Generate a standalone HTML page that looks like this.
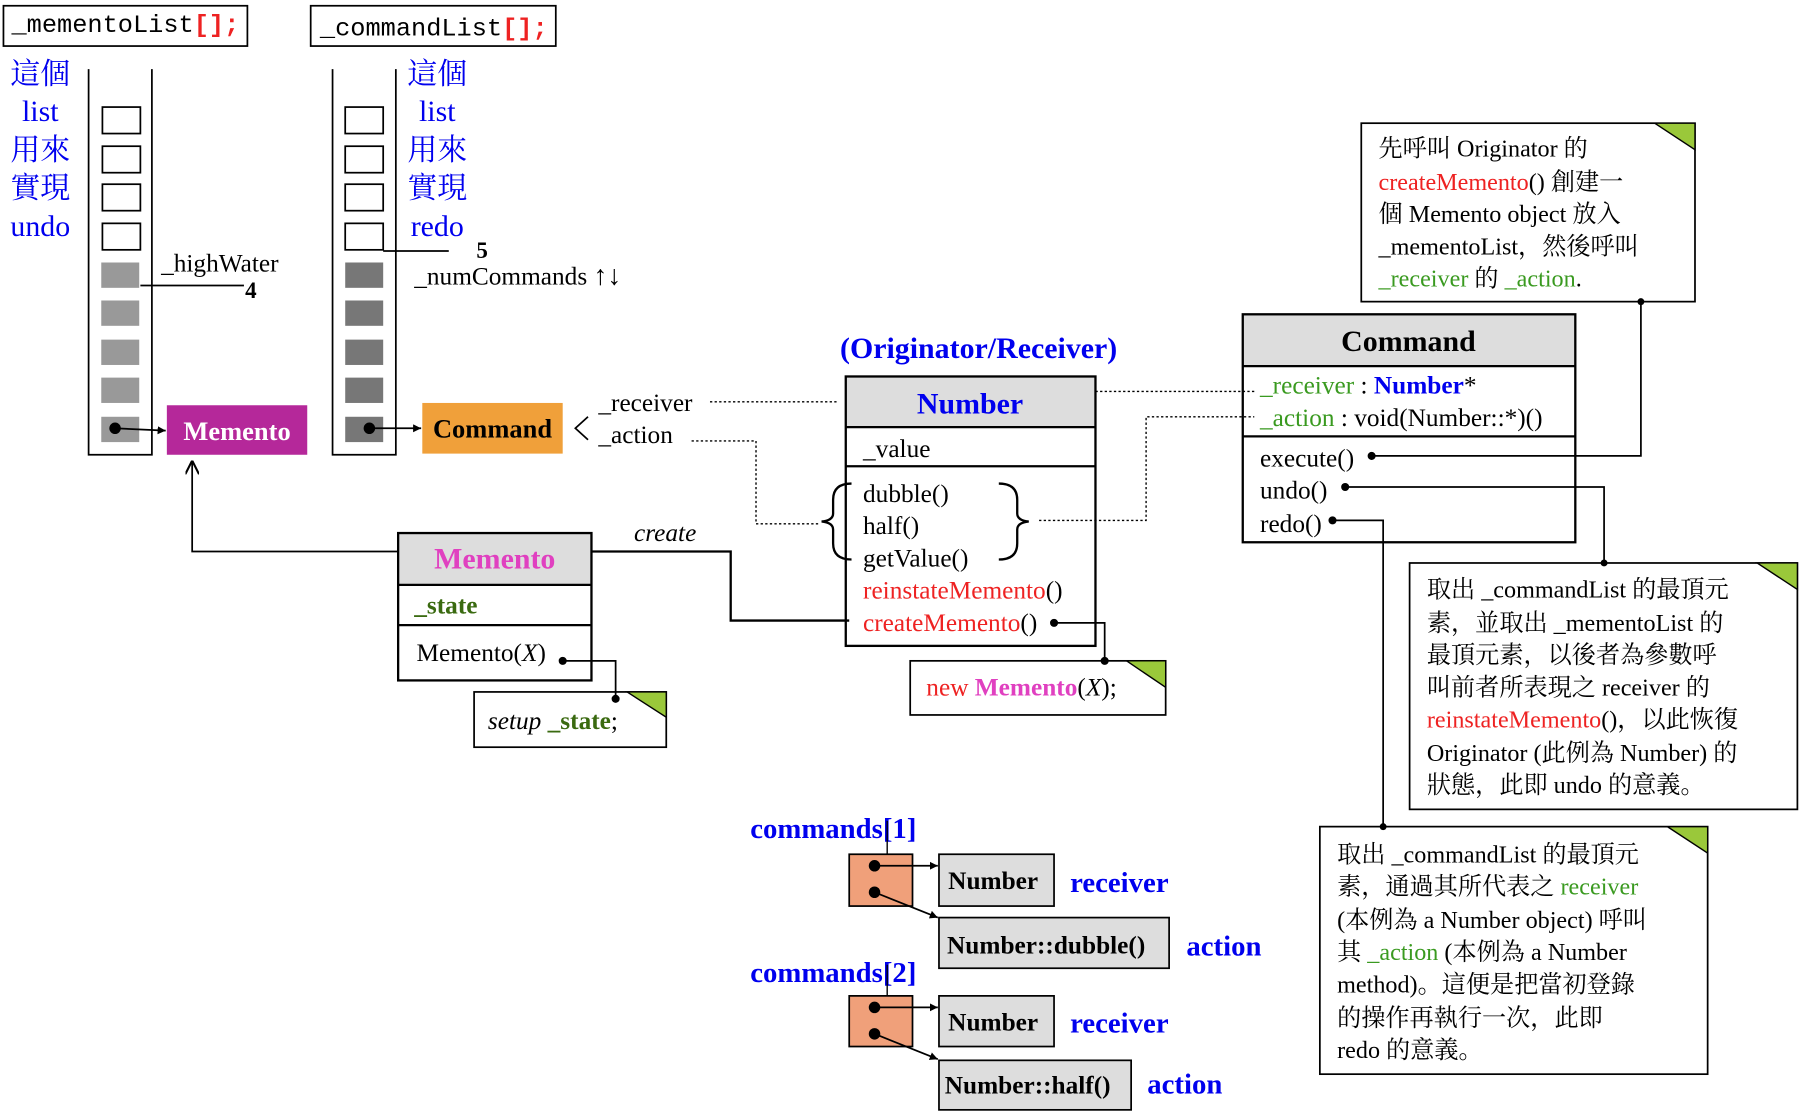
<!DOCTYPE html>
<html><head><meta charset="utf-8"><style>
html,body{margin:0;padding:0;background:#fff;}
svg{display:block;}
text{font-family:"Liberation Serif","Noto Serif CJK SC",serif;}
.m{font-family:"Liberation Mono",monospace;}
.b{font-weight:bold;}
.bl{fill:#0000ee;}
.g{fill:#3a9a20;}
.r{fill:#ee2222;}
</style></head><body>
<svg width="1802" height="1111" viewBox="0 0 1566 965" preserveAspectRatio="none" xmlns="http://www.w3.org/2000/svg">
<defs>
<marker id="ar" viewBox="0 0 10 10" refX="10" refY="5" markerWidth="7" markerHeight="7" orient="auto" markerUnits="userSpaceOnUse"><path d="M0,0L10,5L0,10z" fill="#000"/></marker>
<marker id="oa" viewBox="0 0 10 10" refX="10" refY="5" markerWidth="12" markerHeight="12" orient="auto" markerUnits="userSpaceOnUse"><path d="M0,0L10,5L0,10" fill="none" stroke="#000" stroke-width="1.5"/></marker>
</defs>
<g fill="none" stroke="#000" stroke-width="1.5">
<rect x="3" y="5" width="212" height="35"/>
<rect x="270" y="5" width="213" height="35"/>
</g>
<text x="10" y="28" font-size="22" class="m">_mementoList<tspan class="r b">[];</tspan></text>
<text x="278" y="31" font-size="22" class="m">_commandList<tspan class="r b">[];</tspan></text>
<g class="bl" font-size="26" text-anchor="middle">
<text x="35" y="73">這個</text><text x="35" y="105">list</text><text x="35" y="139">用來</text><text x="35" y="172">實現</text><text x="35" y="205">undo</text>
<text x="380" y="73">這個</text><text x="380" y="105">list</text><text x="380" y="139">用來</text><text x="380" y="172">實現</text><text x="380" y="205">redo</text>
</g>
<g fill="none" stroke="#000" stroke-width="1.5">
<path d="M77,60V395H132V60"/>
<path d="M289,60V395H344V60"/>
<rect x="89" y="93" width="33" height="23"/><rect x="89" y="127" width="33" height="23"/><rect x="89" y="160" width="33" height="23"/><rect x="89" y="194" width="33" height="23"/>
<rect x="300" y="93" width="33" height="23"/><rect x="300" y="127" width="33" height="23"/><rect x="300" y="160" width="33" height="23"/><rect x="300" y="194" width="33" height="23"/>
</g>
<g fill="#999"><rect x="88" y="228" width="33" height="22"/><rect x="88" y="261" width="33" height="22"/><rect x="88" y="295" width="33" height="22"/><rect x="88" y="328" width="33" height="22"/><rect x="88" y="362" width="33" height="22"/></g>
<g fill="#777"><rect x="300" y="228" width="33" height="22"/><rect x="300" y="261" width="33" height="22"/><rect x="300" y="295" width="33" height="22"/><rect x="300" y="328" width="33" height="22"/><rect x="300" y="362" width="33" height="22"/></g>
<line x1="122" y1="248" x2="212" y2="248" stroke="#000" stroke-width="1.5"/>
<text x="140" y="236" font-size="22">_highWater</text>
<text x="213" y="259" font-size="20" class="b">4</text>
<line x1="333" y1="218" x2="390" y2="218" stroke="#000" stroke-width="1.5"/>
<text x="414" y="224" font-size="20" class="b">5</text>
<text x="360" y="247" font-size="22">_numCommands <tspan class="b" font-size="24">↑↓</tspan></text>
<circle cx="100" cy="372" r="5"/><line x1="100" y1="372" x2="144" y2="374" stroke="#000" stroke-width="1.5" marker-end="url(#ar)"/>
<circle cx="321" cy="372" r="5"/><line x1="321" y1="372" x2="366" y2="372" stroke="#000" stroke-width="1.5" marker-end="url(#ar)"/>
<rect x="145" y="352" width="122" height="43" fill="#b5289a"/>
<text x="206" y="382" font-size="23" class="b" fill="#fff" text-anchor="middle">Memento</text>
<rect x="367" y="350" width="122" height="44" fill="#f0a03a"/>
<text x="428" y="380" font-size="23" class="b" text-anchor="middle">Command</text>
<path d="M511,362L500,372L511,382" fill="none" stroke="#000" stroke-width="1.5"/>
<text x="520" y="357" font-size="22">_receiver</text>
<text x="520" y="385" font-size="22">_action</text>
<g fill="none" stroke="#000" stroke-width="1.2" stroke-dasharray="2,2">
<path d="M617,349H728"/>
<path d="M601,383H657V455H712"/>
<path d="M948,340H1090"/>
<path d="M903,452H996V362H1090"/>
</g>
<path d="M346,479H167V400" fill="none" stroke="#000" stroke-width="1.5" marker-end="url(#oa)"/>
<rect x="346" y="463" width="168" height="45" fill="#ddd"/>
<g fill="none" stroke="#000" stroke-width="2"><rect x="346" y="463" width="168" height="128"/><line x1="346" y1="508" x2="514" y2="508"/><line x1="346" y1="543" x2="514" y2="543"/></g>
<text x="430" y="494" font-size="26" class="b" fill="#e040c0" text-anchor="middle">Memento</text>
<text x="360" y="533" font-size="22" class="b" fill="#3a6a10">_state</text>
<text x="362" y="574" font-size="22">Memento(<tspan font-style="italic">X</tspan>)</text>
<circle cx="489" cy="574" r="3.5"/><path d="M489,574H535V607" fill="none" stroke="#000" stroke-width="1.5"/><circle cx="535" cy="607" r="3.5"/>
<rect x="412" y="601" width="167" height="48" fill="none" stroke="#000" stroke-width="1.5"/>
<path d="M545,601H579V623z" fill="#9ac83a" stroke="#000" stroke-width="1.2"/>
<text x="424" y="633" font-size="22"><tspan font-style="italic">setup</tspan> <tspan class="b" fill="#3a6a10">_state</tspan>;</text>
<text x="551" y="470" font-size="22" font-style="italic">create</text>
<path d="M514,479H635V539H738" fill="none" stroke="#000" stroke-width="2"/>
<text x="730" y="311" font-size="26" class="b bl">(Originator/Receiver)</text>
<rect x="735" y="327" width="217" height="44" fill="#ddd"/>
<g fill="none" stroke="#000" stroke-width="2"><rect x="735" y="327" width="217" height="234"/><line x1="735" y1="371" x2="952" y2="371"/><line x1="735" y1="405" x2="952" y2="405"/></g>
<text x="843" y="359" font-size="26" class="b bl" text-anchor="middle">Number</text>
<g font-size="22"><text x="750" y="397">_value</text><text x="750" y="436">dubble()</text><text x="750" y="464">half()</text><text x="750" y="492">getValue()</text>
<text x="750" y="520" class="r">reinstateMemento<tspan fill="#000">()</tspan></text><text x="750" y="548" class="r">createMemento<tspan fill="#000">()</tspan></text></g>
<path d="M740,420Q724,420 724,434V446Q724,452 714,453Q724,454 724,460V472Q724,486 740,486" fill="none" stroke="#000" stroke-width="2"/>
<path d="M868,420Q884,420 884,434V446Q884,452 894,453Q884,454 884,460V472Q884,486 868,486" fill="none" stroke="#000" stroke-width="2"/>
<circle cx="916" cy="541" r="3.5"/><path d="M916,541H960V574" fill="none" stroke="#000" stroke-width="1.5"/><circle cx="960" cy="574" r="3.5"/>
<rect x="791" y="574" width="222" height="47" fill="none" stroke="#000" stroke-width="1.5"/>
<path d="M979,574H1013V597z" fill="#9ac83a" stroke="#000" stroke-width="1.2"/>
<text x="805" y="604" font-size="22" class="r">new <tspan class="b" fill="#e040c0">Memento</tspan><tspan fill="#000">(<tspan font-style="italic">X</tspan>);</tspan></text>
<rect x="1080" y="273" width="289" height="45" fill="#ddd"/>
<g fill="none" stroke="#000" stroke-width="2"><rect x="1080" y="273" width="289" height="198"/><line x1="1080" y1="318" x2="1369" y2="318"/><line x1="1080" y1="379" x2="1369" y2="379"/></g>
<text x="1224" y="305" font-size="26" class="b" text-anchor="middle">Command</text>
<g font-size="22"><text x="1095" y="342"><tspan class="g">_receiver</tspan> : <tspan class="b bl">Number</tspan>*</text>
<text x="1095" y="370"><tspan class="g">_action</tspan> : void(Number::*)()</text>
<text x="1095" y="405">execute()</text><text x="1095" y="433">undo()</text><text x="1095" y="462">redo()</text></g>
<g fill="none" stroke="#000" stroke-width="1.5"><path d="M1192,396H1426V262"/><path d="M1169,423H1394V489"/><path d="M1158,452H1202V718"/></g>
<circle cx="1192" cy="396" r="3.5"/><circle cx="1169" cy="423" r="3.5"/><circle cx="1158" cy="452" r="3.5"/>
<circle cx="1426" cy="262" r="3"/><circle cx="1394" cy="489" r="3"/><circle cx="1202" cy="718" r="3"/>
<g fill="none" stroke="#000" stroke-width="1.5"><rect x="1183" y="107" width="290" height="155"/><rect x="1225" y="489" width="337" height="214"/><rect x="1147" y="718" width="337" height="215"/></g>
<g fill="#9ac83a" stroke="#000" stroke-width="1.2"><path d="M1438,107H1473V130z"/><path d="M1527,489H1562V512z"/><path d="M1449,718H1484V741z"/></g>
<g font-size="21">
<text x="1198" y="136">先呼叫 Originator 的</text>
<text x="1198" y="165" class="r">createMemento<tspan fill="#000">() 創建一</tspan></text>
<text x="1198" y="193">個 Memento object 放入</text>
<text x="1198" y="221">_mementoList，然後呼叫</text>
<text x="1198" y="249"><tspan class="g">_receiver</tspan> 的 <tspan class="g">_action</tspan>.</text>
<text x="1240" y="519">取出 _commandList 的最頂元</text>
<text x="1240" y="548">素，並取出 _mementoList 的</text>
<text x="1240" y="576">最頂元素，以後者為參數呼</text>
<text x="1240" y="604">叫前者所表現之 receiver 的</text>
<text x="1240" y="632" class="r">reinstateMemento<tspan fill="#000">()，以此恢復</tspan></text>
<text x="1240" y="661">Originator (此例為 Number) 的</text>
<text x="1240" y="689">狀態，此即 undo 的意義。</text>
<text x="1162" y="749">取出 _commandList 的最頂元</text>
<text x="1162" y="777">素，通過其所代表之 <tspan class="g">receiver</tspan></text>
<text x="1162" y="806">(本例為 a Number object) 呼叫</text>
<text x="1162" y="834">其 <tspan class="g">_action</tspan> (本例為 a Number</text>
<text x="1162" y="862">method)。這便是把當初登錄</text>
<text x="1162" y="891">的操作再執行一次，此即</text>
<text x="1162" y="919">redo 的意義。</text>
</g>
<g font-size="25" class="b bl"><text x="652" y="728">commands[1]</text><text x="652" y="853">commands[2]</text>
<text x="930" y="775">receiver</text><text x="1031" y="830">action</text><text x="930" y="897">receiver</text><text x="997" y="950">action</text></g>
<g stroke="#000" stroke-width="1.2"><line x1="771" y1="713" x2="771" y2="742"/><line x1="771" y1="838" x2="771" y2="865"/></g>
<g stroke="#000" stroke-width="1.5" fill="#f0a07a"><rect x="738" y="742" width="55" height="45"/><rect x="738" y="865" width="55" height="44"/></g>
<g stroke="#000" stroke-width="1.5" fill="#ddd"><rect x="816" y="742" width="100" height="45"/><rect x="816" y="797" width="200" height="44"/><rect x="816" y="865" width="100" height="44"/><rect x="816" y="921" width="167" height="43"/></g>
<g font-size="22" class="b"><text x="824" y="772">Number</text><text x="823" y="828">Number::dubble()</text><text x="824" y="895">Number</text><text x="821" y="950">Number::half()</text></g>
<g fill="#000"><circle cx="760" cy="752" r="5"/><circle cx="760" cy="775" r="5"/><circle cx="760" cy="875" r="5"/><circle cx="760" cy="898" r="5"/></g>
<g stroke="#000" stroke-width="1.5" marker-end="url(#ar)"><line x1="760" y1="752" x2="815" y2="752"/><line x1="760" y1="775" x2="815" y2="797"/><line x1="760" y1="875" x2="815" y2="875"/><line x1="760" y1="898" x2="815" y2="920"/></g>
</svg>
</body></html>
